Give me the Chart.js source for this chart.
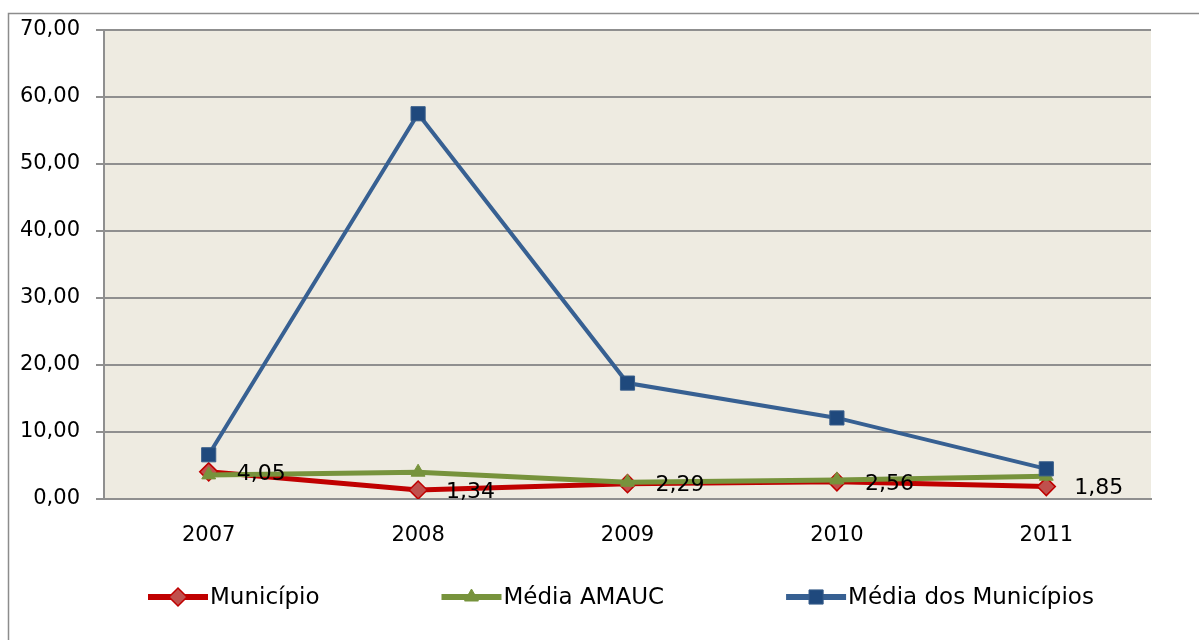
<!DOCTYPE html>
<html>
<head>
<meta charset="utf-8">
<script src="https://cdn.jsdelivr.net/npm/chart.js@4"></script>
<style>
    body { margin: 0; background: #ffffff; }
    #caixa { width: 1199px; height: 640px; position: relative; }
</style>
</head>
<body>
<div id="caixa"><canvas id="grafico"></canvas></div>
<script>
// dados
const anos = ['2007', '2008', '2009', '2010', '2011'];
const municipio = [4.05, 1.34, 2.29, 2.56, 1.85];
const mediaAmauc = [3.6, 4.0, 2.5, 2.85, 3.4];
const mediaMunicipios = [6.6, 57.5, 17.3, 12.1, 4.5];
const ticksY = [0, 10, 20, 30, 40, 50, 60, 70];

const fonte = 'DejaVu Sans, Liberation Sans, sans-serif';
const virgula = v => v.toFixed(2).replace('.', ',');

const fundoPlot = {
    id: 'fundoPlot',
    beforeDraw(chart) {
        const { ctx, chartArea: a } = chart;
        ctx.save();
        ctx.fillStyle = '#EEEBE1';
        ctx.fillRect(a.left, a.top, a.right - a.left, a.bottom - a.top);
        // moldura externa
        ctx.strokeStyle = '#8c8c8c';
        ctx.lineWidth = 1.5;
        ctx.beginPath();
        ctx.moveTo(8.5, 700);
        ctx.lineTo(8.5, 13.5);
        ctx.lineTo(1300, 13.5);
        ctx.stroke();
        ctx.restore();
    }
};

const rotulos = {
    id: 'rotulos',
    afterDatasetsDraw(chart) {
        const { ctx } = chart;
        const meta = chart.getDatasetMeta(0);
        ctx.save();
        ctx.fillStyle = '#000000';
        ctx.font = '22px ' + fonte;
        ctx.textBaseline = 'middle';
        meta.data.forEach((p, i) => {
            ctx.fillText(virgula(municipio[i]), p.x + 28, p.y + 2);
        });
        ctx.restore();
    }
};

const legenda = {
    id: 'legenda',
    afterDraw(chart) {
        const { ctx, chartArea: a } = chart;
        const y = 597;
        let x = a.left + 44;
        ctx.save();
        ctx.font = '23px ' + fonte;
        ctx.textBaseline = 'middle';
        chart.data.datasets.forEach(ds => {
            ctx.strokeStyle = ds.borderColor;
            ctx.lineWidth = 6;
            ctx.beginPath();
            ctx.moveTo(x, y);
            ctx.lineTo(x + 60, y);
            ctx.stroke();
            ctx.fillStyle = ds.pointBackgroundColor;
            ctx.strokeStyle = ds.pointBorderColor;
            ctx.lineWidth = ds.pointBorderWidth;
            Chart.helpers.drawPoint(ctx, {
                pointStyle: ds.pointStyle,
                radius: ds.pointRadius,
                borderWidth: ds.pointBorderWidth,
                rotation: 0
            }, x + 30, y);
            ctx.fillStyle = '#000000';
            ctx.fillText(ds.label, x + 62, y + 1);
            x += 62 + ctx.measureText(ds.label).width + 122;
        });
        ctx.restore();
    }
};

new Chart(document.getElementById('grafico'), {
    type: 'line',
    data: {
        labels: anos,
        datasets: [
            {
                label: 'Município',
                data: municipio,
                borderColor: '#C00000',
                borderWidth: 5,
                pointStyle: 'rectRot',
                pointRadius: 9,
                pointBackgroundColor: '#C0504D',
                pointBorderColor: '#C00000',
                pointBorderWidth: 1.5,
                tension: 0,
                order: 3
            },
            {
                label: 'Média AMAUC',
                data: mediaAmauc,
                borderColor: '#77933C',
                borderWidth: 5,
                pointStyle: 'triangle',
                pointRadius: 8,
                pointBackgroundColor: '#77933C',
                pointBorderColor: '#77933C',
                pointBorderWidth: 1,
                tension: 0,
                order: 2
            },
            {
                label: 'Média dos Municípios',
                data: mediaMunicipios,
                borderColor: '#376092',
                borderWidth: 4,
                pointStyle: 'rect',
                pointRadius: 10,
                pointBackgroundColor: '#1F497D',
                pointBorderColor: '#385D8A',
                pointBorderWidth: 1,
                tension: 0,
                order: 1
            }
        ]
    },
    options: {
        responsive: true,
        maintainAspectRatio: false,
        animation: false,
        layout: { padding: { left: 0, top: 30, right: 48, bottom: 0 } },
        plugins: {
            legend: { display: false },
            tooltip: { enabled: false }
        },
        scales: {
            x: {
                offset: true,
                grid: { display: false, drawTicks: false },
                border: { display: true, color: '#8f8f8f', width: 2 },
                ticks: { color: '#000000', font: { family: fonte, size: 21 }, padding: 24 },
                afterFit: s => { s.height = 141; }
            },
            y: {
                min: 0,
                max: 70,
                afterBuildTicks: s => { s.ticks = ticksY.map(v => ({ value: v })); },
                grid: { color: '#8f8f8f', lineWidth: 2, tickLength: 8 },
                border: { display: true, color: '#8f8f8f', width: 2 },
                ticks: {
                    color: '#000000',
                    font: { family: fonte, size: 21 },
                    padding: 16,
                    callback: v => virgula(v)
                },
                afterFit: s => { s.width = 104; }
            }
        }
    },
    plugins: [fundoPlot, rotulos, legenda]
});
</script>
</body>
</html>
